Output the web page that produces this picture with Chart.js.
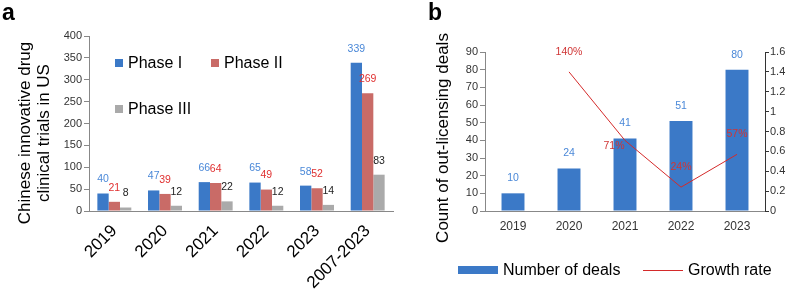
<!DOCTYPE html>
<html>
<head>
<meta charset="utf-8">
<script src="https://cdn.jsdelivr.net/npm/chart.js@4.4.1/dist/chart.umd.min.js"></script>
<style>
  body { margin: 0; background: #fff; }
  #wrap { position: relative; width: 789px; height: 289px; overflow: hidden; }
  #ca { position: absolute; left: 0; top: 0; }
  #cb { position: absolute; left: 400px; top: 0; }
</style>
</head>
<body>
<div id="wrap">
  <canvas id="ca" width="400" height="289"></canvas>
  <canvas id="cb" width="389" height="289"></canvas>
</div>
<script>
// panel a: clinical trials in the US
var trialYears = ['2019', '2020', '2021', '2022', '2023', '2007-2023'];
var phase1 = [40, 47, 66, 65, 58, 339];
var phase2 = [21, 39, 64, 49, 52, 269];
var phase3 = [8, 12, 22, 12, 14, 83];

// panel b: out-licensing deals
var dealYears = ['2019', '2020', '2021', '2022', '2023'];
var dealCounts = [10, 24, 41, 51, 80];
var growthRate = [null, 1.40, 0.71, 0.24, 0.57];

var FONT = '"Liberation Sans", Arial, sans-serif';
Chart.defaults.font.family = FONT;

const BLUE = '#3b79c7';
const RED = '#c96b67';
const GRAY = '#aaaaaa';

// value labels above bars / points
const valueLabels = {
  id: 'valueLabels',
  afterDatasetsDraw(chart) {
    const ctx = chart.ctx;
    chart.data.datasets.forEach((ds, i) => {
      if (!ds.labelColor) return;
      const meta = chart.getDatasetMeta(i);
      meta.data.forEach((el, j) => {
        const v = ds.data[j];
        if (v == null) return;
        const off = ds.labelOffsets ? ds.labelOffsets[j] : [0, -14];
        const txt = ds.pct ? Math.round(v * 100) + '%' : String(v);
        ctx.save();
        ctx.fillStyle = ds.labelColor;
        ctx.font = '10.5px ' + FONT;
        ctx.textAlign = 'center';
        ctx.textBaseline = 'middle';
        ctx.fillText(txt, el.x + off[0], el.y + off[1]);
        ctx.restore();
      });
    });
  }
};

// panel letter, axis title, legend for a
const panelA = {
  id: 'panelA',
  afterDraw(chart) {
    const ctx = chart.ctx;
    ctx.save();
    ctx.fillStyle = '#000';
    ctx.font = 'bold 23px ' + FONT;
    ctx.textBaseline = 'alphabetic';
    ctx.fillText('a', 2, 20);

    ctx.font = '16px ' + FONT;
    ctx.textBaseline = 'middle';
    const items = [
      ['Phase I', BLUE, 115, 63],
      ['Phase II', RED, 211, 63],
      ['Phase III', GRAY, 115, 109]
    ];
    items.forEach(it => {
      ctx.fillStyle = it[1];
      ctx.fillRect(it[2], it[3] - 4, 8, 8);
      ctx.fillStyle = '#000';
      ctx.fillText(it[0], it[2] + 13, it[3] + 1);
    });

    ctx.translate(25, 133);
    ctx.rotate(-Math.PI / 2);
    ctx.font = '17px ' + FONT;
    ctx.textAlign = 'center';
    ctx.fillText('Chinese innovative drug', 0, 0);
    ctx.fillText('clinical trials in US', 0, 19);
    ctx.restore();
  }
};

const panelB = {
  id: 'panelB',
  afterDraw(chart) {
    const ctx = chart.ctx;
    ctx.save();
    ctx.fillStyle = '#000';
    ctx.font = 'bold 23px ' + FONT;
    ctx.textBaseline = 'alphabetic';
    ctx.fillText('b', 28, 20);

    ctx.font = '16px ' + FONT;
    ctx.textBaseline = 'middle';
    ctx.fillStyle = BLUE;
    ctx.fillRect(58, 266, 40, 8);
    ctx.fillStyle = '#000';
    ctx.fillText('Number of deals', 103, 271);
    ctx.strokeStyle = '#d42a2a';
    ctx.lineWidth = 1;
    ctx.beginPath();
    ctx.moveTo(243, 270.5);
    ctx.lineTo(283, 270.5);
    ctx.stroke();
    ctx.fillText('Growth rate', 288, 271);

    ctx.translate(43, 138);
    ctx.rotate(-Math.PI / 2);
    ctx.font = '17px ' + FONT;
    ctx.textAlign = 'center';
    ctx.fillText('Count of out-licensing deals', 0, 0);
    ctx.restore();
  }
};

// Chart a
new Chart(document.getElementById('ca'), {
  type: 'bar',
  data: {
    labels: trialYears,
    datasets: [
      { label: 'Phase I', data: phase1, backgroundColor: BLUE, labelColor: '#4a88d8' },
      { label: 'Phase II', data: phase2, backgroundColor: RED, labelColor: '#e03030' },
      { label: 'Phase III', data: phase3, backgroundColor: GRAY, labelColor: '#222' }
    ]
  },
  options: {
    responsive: false,
    animation: false,
    devicePixelRatio: 1,
    layout: { padding: { top: 36, right: 7, left: 0, bottom: 0 } },
    datasets: { bar: { categoryPercentage: 0.67, barPercentage: 1 } },
    plugins: { legend: { display: false }, tooltip: { enabled: false } },
    scales: {
      x: {
        grid: { display: true, drawOnChartArea: false, drawTicks: false },
        border: { color: '#888' },
        ticks: { color: '#000', font: { size: 17 }, minRotation: 45, maxRotation: 45, padding: 10 },
        afterFit: s => { s.height = 78; }
      },
      y: {
        min: 0, max: 400,
        ticks: { stepSize: 50, color: '#333', font: { size: 11 }, padding: 2 },
        grid: { drawOnChartArea: false, tickLength: 5, color: '#888' },
        border: { color: '#888' },
        afterFit: s => { s.width = 89; }
      }
    }
  },
  plugins: [valueLabels, panelA]
});

// Chart b
new Chart(document.getElementById('cb'), {
  data: {
    labels: dealYears,
    datasets: [
      {
        type: 'line', label: 'Growth rate', data: growthRate, yAxisID: 'y1',
        borderColor: '#d42a2a', borderWidth: 1, pointRadius: 0, tension: 0, order: 0,
        labelColor: '#d03535', pct: true,
        labelOffsets: [[0, 0], [0, -20], [-11, 6], [0, -20], [0, -20]]
      },
      {
        type: 'bar', label: 'Number of deals', data: dealCounts, yAxisID: 'y',
        backgroundColor: BLUE, barPercentage: 0.41, categoryPercentage: 1, order: 1,
        labelColor: '#4a88d8', labelOffsets: [[0, -15], [0, -15], [0, -15], [0, -15], [0, -15]]
      }
    ]
  },
  options: {
    responsive: false,
    animation: false,
    devicePixelRatio: 1,
    layout: { padding: { top: 52, right: 0, left: 0, bottom: 0 } },
    plugins: { legend: { display: false }, tooltip: { enabled: false } },
    scales: {
      x: {
        grid: { display: true, drawOnChartArea: false, drawTicks: false },
        border: { color: '#888' },
        ticks: { color: '#333', font: { size: 12 }, padding: 8 },
        afterFit: s => { s.height = 78; }
      },
      y: {
        min: 0, max: 90,
        ticks: { stepSize: 10, color: '#333', font: { size: 11 }, padding: 2 },
        grid: { drawOnChartArea: false, tickLength: 5, color: '#888' },
        border: { color: '#888' },
        afterFit: s => { s.width = 85; }
      },
      y1: {
        position: 'right',
        min: 0, max: 1.6,
        ticks: { stepSize: 0.2, color: '#333', font: { size: 11 }, padding: 1,
                 callback: v => String(+v.toFixed(1)) },
        grid: { drawOnChartArea: false, tickLength: 4, color: '#333' },
        border: { color: '#333' },
        afterFit: s => { s.width = 24; }
      }
    }
  },
  plugins: [valueLabels, panelB]
});
</script>
</body>
</html>
